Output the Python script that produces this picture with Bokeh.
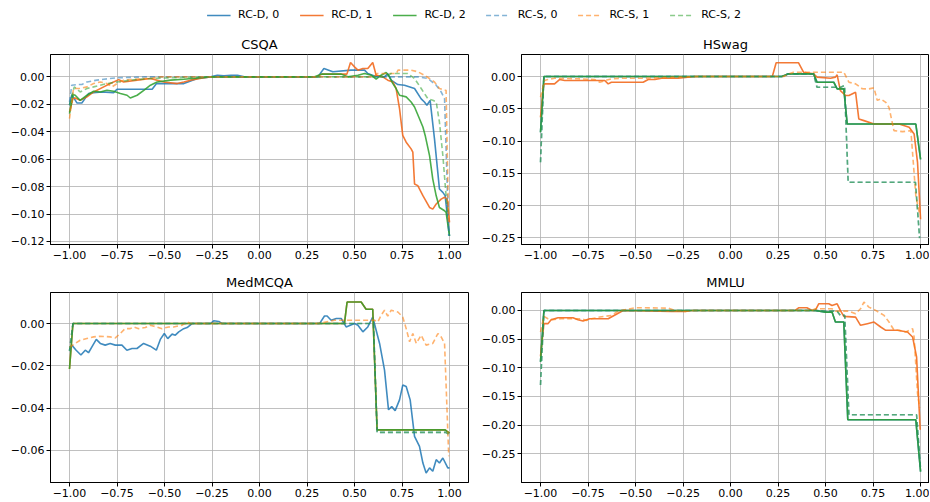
from bokeh.plotting import figure
from bokeh.layouts import column, row
from bokeh.models import Range1d, FixedTicker, Legend, LegendItem
from bokeh.embed import file_html
from bokeh.resources import INLINE

# ---------------- tick labels ----------------
X_TICKS = [-1.0, -0.75, -0.5, -0.25, 0.0, 0.25, 0.5, 0.75, 1.0]
X_LABELS = ["\u22121.00", "\u22120.75", "\u22120.50", "\u22120.25", "0.00", "0.25", "0.50", "0.75", "1.00"]
CSQA_Y_TICKS = [0.0, -0.02, -0.04, -0.06, -0.08, -0.1, -0.12]
CSQA_Y_LABELS = ["0.00", "\u22120.02", "\u22120.04", "\u22120.06", "\u22120.08", "\u22120.10", "\u22120.12"]
HSWAG_Y_TICKS = [0.0, -0.05, -0.1, -0.15, -0.2, -0.25]
HSWAG_Y_LABELS = ["0.00", "\u22120.05", "\u22120.10", "\u22120.15", "\u22120.20", "\u22120.25"]
MED_Y_TICKS = [0.0, -0.02, -0.04, -0.06]
MED_Y_LABELS = ["0.00", "\u22120.02", "\u22120.04", "\u22120.06"]
MMLU_Y_TICKS = [0.0, -0.05, -0.1, -0.15, -0.2, -0.25]
MMLU_Y_LABELS = ["0.00", "\u22120.05", "\u22120.10", "\u22120.15", "\u22120.20", "\u22120.25"]

SERIES_NAMES = ["RC-D, 0", "RC-D, 1", "RC-D, 2", "RC-S, 0", "RC-S, 1", "RC-S, 2"]

# ---------------- CSQA ----------------
csqa_rcd0_x = [-1.0, -0.988, -0.961, -0.935, -0.9, -0.873, -0.829, -0.768, -0.75, -0.565, -0.542, -0.398, -0.327, -0.257,
               -0.222, -0.187, -0.15, -0.116, -0.08, -0.046, 0.307, 0.339, 0.386, 0.482, 0.553, 0.57, 0.605, 0.658, 0.675,
               0.693, 0.728, 0.763, 0.816, 0.851, 0.868, 0.881, 0.898, 0.921, 0.947, 0.965, 0.977, 1.0]
csqa_rcd0_y = [-0.0207, -0.0129, -0.019, -0.019, -0.0122, -0.0115, -0.011, -0.0115, -0.009, -0.009, -0.0049, -0.0049, -0.0012, 0.0,
               0.0012, 0.0007, 0.0012, 0.0012, 0.0, 0.0, 0.0, 0.0061, 0.0037, 0.0049, 0.0049, 0.0024, 0.0007, 0.0, 0.0024,
               -0.0024, -0.0056, -0.0061, -0.0085, -0.016, -0.0183, -0.0207, -0.0171, -0.0452, -0.0817, -0.0842, -0.0866, -0.116]
csqa_rcd1_x = [-1.0, -0.982, -0.97, -0.944, -0.908, -0.873, -0.82, -0.785, -0.741, -0.715, -0.644, -0.574, -0.504, -0.433,
               -0.398, -0.363, -0.292, -0.257, 0.298, 0.33, 0.46, 0.479, 0.5, 0.518, 0.544, 0.57, 0.596, 0.614, 0.649, 0.675,
               0.702, 0.719, 0.737, 0.754, 0.772, 0.798, 0.807, 0.816, 0.833, 0.86, 0.895, 0.912, 0.93, 0.956, 0.974, 0.988, 1.0]
csqa_rcd1_y = [-0.0256, -0.0159, -0.0154, -0.0171, -0.0146, -0.011, -0.0073, -0.0049, -0.002, -0.0037, -0.0024, -0.0012, -0.0037,
               -0.0049, -0.0037, -0.0024, -0.0007, 0.0, 0.0, 0.002, 0.002, 0.0105, 0.0073, 0.0049, 0.0061, 0.0061, 0.0105, 0.0012,
               0.0, -0.0024, -0.0037, -0.0085, -0.0232, -0.0427, -0.0476, -0.0525, -0.0549, -0.0781, -0.0793, -0.0866, -0.0952,
               -0.0964, -0.0927, -0.0891, -0.0878, -0.0891, -0.1061]
csqa_rcd2_x = [-1.0, -0.982, -0.97, -0.944, -0.908, -0.873, -0.838, -0.803, -0.768, -0.732, -0.697, -0.68, -0.644, -0.609,
               -0.574, -0.539, -0.468, -0.398, -0.31, -0.257, 0.29, 0.325, 0.43, 0.465, 0.518, 0.553, 0.588, 0.614, 0.64, 0.667,
               0.684, 0.702, 0.719, 0.737, 0.772, 0.798, 0.816, 0.842, 0.86, 0.872, 0.895, 0.912, 0.93, 0.947, 0.974, 0.982, 1.0]
csqa_rcd2_y = [-0.0268, -0.0129, -0.0134, -0.0171, -0.0134, -0.0105, -0.011, -0.0098, -0.0105, -0.0122, -0.0134, -0.0154, -0.0134,
               -0.0098, -0.0061, -0.0037, -0.0024, -0.0017, -0.0007, 0.0, 0.0, 0.002, 0.002, 0.0, 0.0012, 0.0024, 0.0012, -0.0017,
               0.0012, 0.0032, 0.0, -0.0049, -0.0085, -0.0134, -0.0146, -0.0183, -0.022, -0.0305, -0.0366, -0.0427, -0.0574,
               -0.0745, -0.0867, -0.0952, -0.0976, -0.0988, -0.1159]
csqa_rcs0_x = [-1.0, -0.988, -0.961, -0.935, -0.908, -0.856, -0.82, -0.75, -0.6, 0.833, 0.886, 0.93, 0.956, 0.974, 0.996]
csqa_rcs0_y = [-0.0183, -0.0061, -0.0056, -0.0056, -0.0037, -0.0024, -0.0017, -0.0007, 0.0, 0.0, -0.0012, -0.0061, -0.011, -0.0159, -0.116]
csqa_rcs1_x = [-1.0, -0.979, -0.944, -0.908, -0.873, -0.838, -0.803, -0.776, -0.75, -0.715, -0.609, -0.574, -0.521, 0.6, 0.62,
               0.72, 0.729, 0.798, 0.833, 0.868, 0.921, 0.947, 0.974, 0.982, 0.995]
csqa_rcs1_y = [-0.0305, -0.0085, -0.0085, -0.0073, -0.0049, -0.0037, -0.0049, -0.0073, -0.0049, -0.0024, -0.0012, -0.0012, 0.0,
               0.0, 0.0024, 0.0024, 0.0049, 0.0049, 0.0037, 0.0012, -0.0037, -0.0085, -0.0098, -0.0098, -0.106]
csqa_rcs2_x = [-1.0, -0.975, -0.944, -0.908, -0.873, -0.838, -0.803, -0.75, -0.68, -0.574, -0.468, -0.257, 0.66, 0.693, 0.78,
               0.816, 0.851, 0.886, 0.912, 0.93, 0.947, 0.965, 0.982, 0.991]
csqa_rcs2_y = [-0.0207, -0.0073, -0.011, -0.0085, -0.0073, -0.0061, -0.0049, -0.0037, -0.0024, -0.0012, -0.0007, 0.0, 0.0, 0.0024,
               0.0024, -0.0012, -0.0085, -0.0159, -0.0171, -0.0183, -0.0329, -0.0573, -0.0866, -0.101]

# ---------------- HSwag ----------------
hswag_rcd1_x = [-1.0, -0.984, -0.979, -0.926, -0.9, -0.873, -0.662, -0.644, -0.627, -0.46, -0.433, -0.398, -0.363, -0.275, -0.187,
                0.22, 0.24, 0.358, 0.384, 0.437, 0.455, 0.526, 0.552, 0.561, 0.578, 0.605, 0.623, 0.658, 0.675, 0.702, 0.755,
                0.817, 0.887, 0.94, 0.966, 0.984, 1.0]
hswag_rcd1_y = [-0.0632, -0.014, -0.0114, -0.0114, -0.0047, -0.0062, -0.0062, -0.0114, -0.0088, -0.0088, -0.0047, -0.0047, -0.0026,
                -0.0026, 0.0, 0.0, 0.0212, 0.0212, 0.0067, 0.0041, -0.001, -0.0026, -0.001, 0.0026, -0.0218, -0.0295, -0.0295,
                -0.0244, -0.0658, -0.0684, -0.0736, -0.0736, -0.0736, -0.0788, -0.089, -0.133, -0.2212]
hswag_rcd2_x = [-1.0, -0.982, 0.27, 0.305, 0.437, 0.455, 0.543, 0.561, 0.596, 0.614, 0.975, 1.0]
hswag_rcd2_y = [-0.0865, 0.0, 0.0, 0.0041, 0.0041, -0.0088, -0.0088, -0.0192, -0.0192, -0.0736, -0.0736, -0.1285]
hswag_rcs1_x = [-1.0, -0.979, -0.961, -0.926, -0.803, -0.715, -0.688, -0.627, -0.574, -0.451, -0.169, 0.28, 0.305, 0.331, 0.596,
                0.623, 0.658, 0.693, 0.711, 0.728, 0.755, 0.772, 0.79, 0.817, 0.834, 0.86, 0.905, 0.949, 0.975, 0.993]
hswag_rcs1_y = [-0.0321, -0.0062, -0.0047, -0.0026, -0.0036, -0.0047, -0.0088, -0.0036, -0.0026, -0.0026, 0.0, 0.0, 0.0041, 0.0067,
                0.0067, -0.0088, -0.0114, -0.019, -0.0192, -0.0192, -0.0176, -0.037, -0.0347, -0.04, -0.048, -0.0839, -0.0855,
                -0.0839, -0.1849, -0.2108]
hswag_rcs2_x = [-1.0, -0.982, 0.27, 0.305, 0.437, 0.455, 0.58, 0.6, 0.619, 0.973, 0.995]
hswag_rcs2_y = [-0.133, 0.0, 0.0, 0.0041, 0.0041, -0.0166, -0.0166, -0.014, -0.164, -0.164, -0.2505]
hswag_rcd0_x, hswag_rcd0_y = hswag_rcd2_x, hswag_rcd2_y
hswag_rcs0_x, hswag_rcs0_y = hswag_rcs2_x, hswag_rcs2_y

# ---------------- MedMCQA ----------------
med_rcd0_x = [-1.0, -0.988, -0.965, -0.94, -0.917, -0.9, -0.882, -0.859, -0.838, -0.812, -0.786, -0.759, -0.724, -0.698, -0.671,
              -0.645, -0.61, -0.575, -0.543, -0.522, -0.501, -0.483, -0.46, -0.443, -0.425, -0.399, -0.381, -0.355, -0.258,
              -0.241, -0.214, -0.197, 0.316, 0.342, 0.356, 0.377, 0.404, 0.43, 0.456, 0.5, 0.518, 0.544, 0.57, 0.596, 0.632,
              0.658, 0.679, 0.696, 0.714, 0.737, 0.754, 0.772, 0.793, 0.816, 0.842, 0.86, 0.877, 0.895, 0.912, 0.93, 0.947,
              0.965, 0.991, 1.0]
med_rcd0_y = [-0.0123, -0.0102, -0.0126, -0.0149, -0.0126, -0.0138, -0.011, -0.0075, -0.0094, -0.0102, -0.0094, -0.0102, -0.0102,
              -0.0126, -0.0118, -0.0118, -0.0094, -0.0107, -0.0126, -0.0075, -0.0047, -0.0071, -0.005, -0.0055, -0.0039, -0.0024,
              -0.0019, 0.0, 0.0, 0.0013, 0.001, 0.0, 0.0, 0.0036, 0.0036, 0.0016, 0.0024, 0.0024, -0.0016, 0.0, -0.0008, -0.0039,
              -0.0016, 0.0031, -0.0094, -0.022, -0.0408, -0.0393, -0.0412, -0.0361, -0.0291, -0.0298, -0.0361, -0.0534, -0.0581,
              -0.066, -0.0707, -0.0683, -0.0699, -0.0644, -0.066, -0.0636, -0.0683, -0.0683]
med_rcd2_x = [-1.0, -0.982, 0.447, 0.461, 0.535, 0.561, 0.596, 0.619, 0.977, 1.0]
med_rcd2_y = [-0.0215, 0.0, 0.0, 0.0102, 0.0102, 0.0068, 0.0068, -0.0503, -0.0503, -0.0518]
med_rcs1_x = [-1.0, -0.97, -0.944, -0.909, -0.873, -0.838, -0.786, -0.759, -0.733, -0.707, -0.68, -0.663, -0.636, -0.601, -0.575,
              -0.54, -0.513, -0.478, -0.452, -0.408, -0.381, -0.364, 0.307, 0.395, 0.605, 0.623, 0.64, 0.658, 0.675, 0.693,
              0.728, 0.754, 0.772, 0.79, 0.807, 0.825, 0.851, 0.877, 0.912, 0.939, 0.956, 0.974, 0.996]
med_rcs1_y = [-0.0113, -0.0094, -0.0079, -0.0071, -0.0063, -0.006, -0.0063, -0.0068, -0.0047, -0.0024, -0.0024, -0.0016, -0.0024,
              -0.0019, -0.0008, -0.0016, -0.0024, -0.0016, -0.0016, -0.0008, 0.0008, 0.0, 0.0, 0.0016, 0.0016, 0.0008, 0.0039,
              0.0063, 0.0035, 0.0063, 0.0055, 0.0031, -0.0024, -0.0086, -0.0047, -0.0094, -0.0055, -0.0102, -0.0094, -0.0047,
              -0.0063, -0.0094, -0.0628]
med_rcs2_x = [-1.0, -0.982, 0.6, 0.619, 0.98, 1.0]
med_rcs2_y = [-0.013, 0.0, 0.0, -0.0515, -0.0515, -0.0526]
med_rcd1_x, med_rcd1_y = med_rcd2_x, med_rcd2_y
med_rcs0_x, med_rcs0_y = med_rcs2_x, med_rcs2_y

# ---------------- MMLU ----------------
mmlu_rcd1_x = [-1.0, -0.982, -0.961, -0.944, -0.908, -0.829, -0.803, -0.776, -0.741, -0.644, -0.565, -0.31, -0.239, -0.204,
               0.34, 0.358, 0.402, 0.429, 0.446, 0.464, 0.517, 0.534, 0.561, 0.578, 0.596, 0.658, 0.684, 0.72, 0.755, 0.79,
               0.817, 0.878, 0.931, 0.958, 0.979, 0.998]
mmlu_rcd1_y = [-0.08, -0.0231, -0.0231, -0.0162, -0.0127, -0.0127, -0.0162, -0.0185, -0.0145, -0.0145, 0.0, -0.0017, -0.0017, 0.0,
               0.0, 0.0046, 0.0046, 0.0, 0.0, 0.0116, 0.0116, 0.0087, 0.0116, 0.0, -0.0104, -0.0116, -0.026, -0.0231, -0.0203,
               -0.0289, -0.0347, -0.0347, -0.0376, -0.0463, -0.081, -0.2083]
mmlu_rcd2_x = [-1.0, -0.982, 0.446, 0.499, 0.534, 0.552, 0.596, 0.617, 0.975, 1.0]
mmlu_rcd2_y = [-0.0897, 0.0, 0.0, -0.0029, -0.0029, -0.0203, -0.0203, -0.1909, -0.1909, -0.2813]
mmlu_rcs1_x = [-1.0, -0.982, -0.961, -0.935, -0.891, -0.785, -0.759, -0.732, -0.688, -0.627, -0.6, -0.574, -0.504, -0.451, -0.327,
               -0.292, -0.239, -0.187, 0.429, 0.446, 0.534, 0.552, 0.623, 0.658, 0.684, 0.702, 0.728, 0.764, 0.808, 0.834, 0.861,
               0.887, 0.922, 0.958, 0.966, 0.984, 0.995]
mmlu_rcs1_y = [-0.0376, -0.0104, -0.0145, -0.0162, -0.0145, -0.0145, -0.0174, -0.0145, -0.0116, -0.0087, -0.0029, 0.0, 0.0046,
               0.0046, 0.004, 0.0, -0.0017, 0.0, 0.0, 0.0029, 0.0029, -0.0012, -0.0012, -0.0058, 0.0029, 0.0145, 0.0058, 0.0,
               -0.0087, -0.0203, -0.0347, -0.0347, -0.0376, -0.0318, -0.0463, -0.1447, -0.17]
mmlu_rcs2_x = [-1.0, -0.982, 0.446, 0.499, 0.561, 0.578, 0.601, 0.623, 0.979, 1.0]
mmlu_rcs2_y = [-0.1302, 0.0, 0.0, -0.0012, -0.0012, -0.0087, -0.0087, -0.182, -0.182, -0.2778]
mmlu_rcd0_x, mmlu_rcd0_y = mmlu_rcd2_x, mmlu_rcd2_y
mmlu_rcs0_x, mmlu_rcs0_y = mmlu_rcs2_x, mmlu_rcs2_y

# ---------------- styles ----------------
COLORS = ["#1f77b4", "#f26a1f", "#2ca02c", "#1f77b4", "#ff7f0e", "#2ca02c"]
DASHES = ["solid", "solid", "solid", "5 3", "5 3", "5 3"]
ALPHAS = [0.85, 0.9, 0.85, 0.55, 0.6, 0.55]
FONT = "DejaVu Sans"

csqa_series = [(csqa_rcd0_x, csqa_rcd0_y), (csqa_rcd1_x, csqa_rcd1_y), (csqa_rcd2_x, csqa_rcd2_y),
               (csqa_rcs0_x, csqa_rcs0_y), (csqa_rcs1_x, csqa_rcs1_y), (csqa_rcs2_x, csqa_rcs2_y)]
panels = [
    ("CSQA", csqa_series, CSQA_Y_TICKS, CSQA_Y_LABELS, (-0.1222, 0.0163)),
    ("HSwag", [(hswag_rcd0_x, hswag_rcd0_y), (hswag_rcd1_x, hswag_rcd1_y), (hswag_rcd2_x, hswag_rcd2_y),
               (hswag_rcs0_x, hswag_rcs0_y), (hswag_rcs1_x, hswag_rcs1_y), (hswag_rcs2_x, hswag_rcs2_y)],
     HSWAG_Y_TICKS, HSWAG_Y_LABELS, (-0.2604, 0.0341)),
    ("MedMCQA", [(med_rcd0_x, med_rcd0_y), (med_rcd1_x, med_rcd1_y), (med_rcd2_x, med_rcd2_y),
                 (med_rcs0_x, med_rcs0_y), (med_rcs1_x, med_rcs1_y), (med_rcs2_x, med_rcs2_y)],
     MED_Y_TICKS, MED_Y_LABELS, (-0.0752, 0.0147)),
    ("MMLU", [(mmlu_rcd0_x, mmlu_rcd0_y), (mmlu_rcd1_x, mmlu_rcd1_y), (mmlu_rcd2_x, mmlu_rcd2_y),
              (mmlu_rcs0_x, mmlu_rcs0_y), (mmlu_rcs1_x, mmlu_rcs1_y), (mmlu_rcs2_x, mmlu_rcs2_y)],
     MMLU_Y_TICKS, MMLU_Y_LABELS, (-0.3003, 0.0313)),
]

# layout geometry: (width, height, border left, right, top, bottom, x-range end)
geom = [
    (478, 246, 50, 10, 32, 24, 1.1),
    (451, 246, 43, 0, 32, 24, 1.047),
    (478, 233, 50, 10, 24, 19, 1.1),
    (451, 233, 43, 0, 24, 19, 1.047),
]

figs = []
for (title, series, yt, yl, yr), (w, h, bl, br, bt, bb, xend) in zip(panels, geom):
    p = figure(width=w, height=h, x_range=Range1d(-1.1, xend), y_range=Range1d(*yr),
               output_backend="svg", toolbar_location=None, title=title,
               min_border_left=bl, min_border_right=br, min_border_top=bt, min_border_bottom=bb)
    p.title.align = "center"
    p.title.text_font = FONT
    p.title.text_font_size = "13px"
    p.title.text_font_style = "normal"
    p.title.text_color = "black"
    p.title.standoff = 6
    p.xaxis.ticker = FixedTicker(ticks=X_TICKS, minor_ticks=[])
    p.xaxis.major_label_overrides = {t: l for t, l in zip(X_TICKS, X_LABELS)}
    p.yaxis.ticker = FixedTicker(ticks=yt, minor_ticks=[])
    p.yaxis.major_label_overrides = {t: l for t, l in zip(yt, yl)}
    for ax in p.axis:
        ax.axis_line_color = "black"
        ax.axis_line_width = 1
        ax.major_tick_line_color = "black"
        ax.major_tick_out = 4
        ax.major_tick_in = 0
        ax.minor_tick_line_color = None
        ax.major_label_text_font = FONT
        ax.major_label_text_font_size = "11px"
        ax.major_label_text_color = "black"
    p.xaxis.major_label_standoff = 2
    p.yaxis.major_label_standoff = 2
    p.grid.grid_line_color = "#b0b0b0"
    p.grid.grid_line_width = 0.8
    p.outline_line_color = "black"
    p.outline_line_width = 1
    p.outline_line_alpha = 1
    for (xs, ys), c, d, a in zip(series, COLORS, DASHES, ALPHAS):
        p.line(xs, ys, line_color=c, line_dash=d, line_alpha=a, line_width=1.6)
    figs.append(p)

# legend strip: its renderers hold the CSQA series, kept outside the strip's visible range
leg = figure(width=929, height=22, output_backend="svg", toolbar_location=None,
             x_range=Range1d(10, 11), y_range=Range1d(10, 11),
             x_axis_location=None, y_axis_location=None,
             min_border_left=18, min_border_right=0, min_border_top=8, min_border_bottom=0)
leg.grid.visible = False
leg.outline_line_color = None
items = []
for name, (xs, ys), c, d, a in zip(SERIES_NAMES, csqa_series, COLORS, DASHES, ALPHAS):
    r = leg.line(xs, ys, line_color=c, line_dash=d, line_alpha=a, line_width=1.6)
    items.append(LegendItem(label=name, renderers=[r]))
legend = Legend(items=items, orientation="horizontal", location="top_center",
                border_line_alpha=0, background_fill_alpha=0,
                label_text_font=FONT, label_text_font_size="11px", label_text_color="black",
                glyph_width=24, glyph_height=12, label_height=12, label_standoff=8,
                spacing=20, padding=0, margin=0)
leg.add_layout(legend, "center")

layout = column(leg, row(figs[0], figs[1], spacing=0), row(figs[2], figs[3], spacing=0), spacing=0)

with open("out.html", "w") as f:
    f.write(file_html(layout, INLINE))
